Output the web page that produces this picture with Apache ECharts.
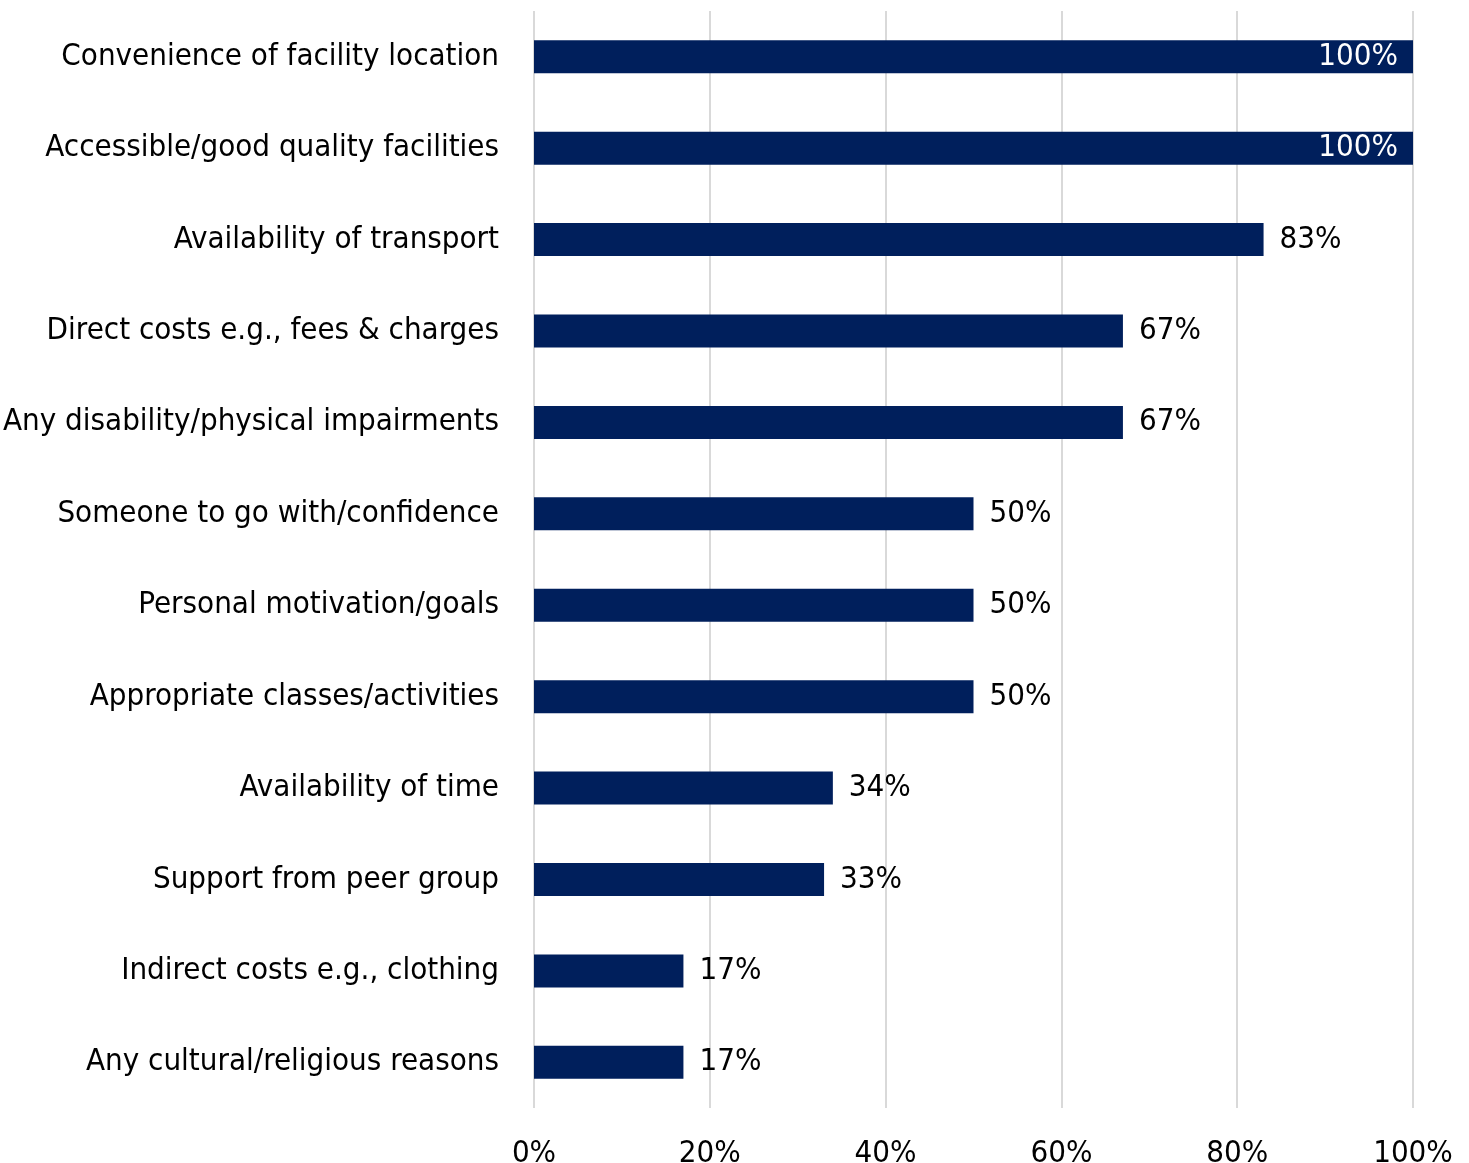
<!DOCTYPE html>
<html><head><meta charset="utf-8">
<script src="https://cdn.jsdelivr.net/npm/echarts@6/dist/echarts.min.js"></script>
<style>html,body{margin:0;padding:0;background:#fff}#c{width:1469px;height:1163px}</style>
</head><body><div id="c"></div>
<script>
const categories = [
  "Convenience of facility location",
  "Accessible/good quality facilities",
  "Availability of transport",
  "Direct costs e.g., fees & charges",
  "Any disability/physical impairments",
  "Someone to go with/confidence",
  "Personal motivation/goals",
  "Appropriate classes/activities",
  "Availability of time",
  "Support from peer group",
  "Indirect costs e.g., clothing",
  "Any cultural/religious reasons"
];
const values = [100, 100, 83, 67, 67, 50, 50, 50, 34, 33, 17, 17];
const tickValues = [0, 20, 40, 60, 80, 100];

const FONT = "DejaVu Sans Condensed";
const chart = echarts.init(document.getElementById('c'), null, {renderer: 'canvas'});
const data = values.map(v => v >= 100 ? {
  value: v,
  label: {position: 'insideRight', color: '#ffffff', distance: 15}
} : v);
chart.setOption({
  animation: false,
  grid: {left: 534, right: 56, top: 11, bottom: 55, containLabel: false, outerBoundsMode: 'none'},
  xAxis: {
    type: 'value', min: 0, max: 100, interval: 20,
    axisLine: {show: false}, axisTick: {show: false},
    splitLine: {show: true, lineStyle: {color: '#d9d9d9', width: 2}},
    axisLabel: {formatter: v => v + '%', fontFamily: FONT, fontSize: 31, color: '#000', margin: 30}
  },
  yAxis: {
    type: 'category', data: categories, inverse: true,
    axisLine: {show: false}, axisTick: {show: false},
    axisLabel: {fontFamily: FONT, fontSize: 31, color: '#000', margin: 35, padding: [8, 0, 0, 0]}
  },
  series: [{
    type: 'bar', data: data, barWidth: 33,
    itemStyle: {color: '#001f5c'},
    label: {show: true, position: 'right', distance: 16, formatter: p => p.value + '%',
      fontFamily: FONT, fontSize: 31, color: '#000', padding: [8, 0, 0, 0]}
  }]
});
</script></body></html>
